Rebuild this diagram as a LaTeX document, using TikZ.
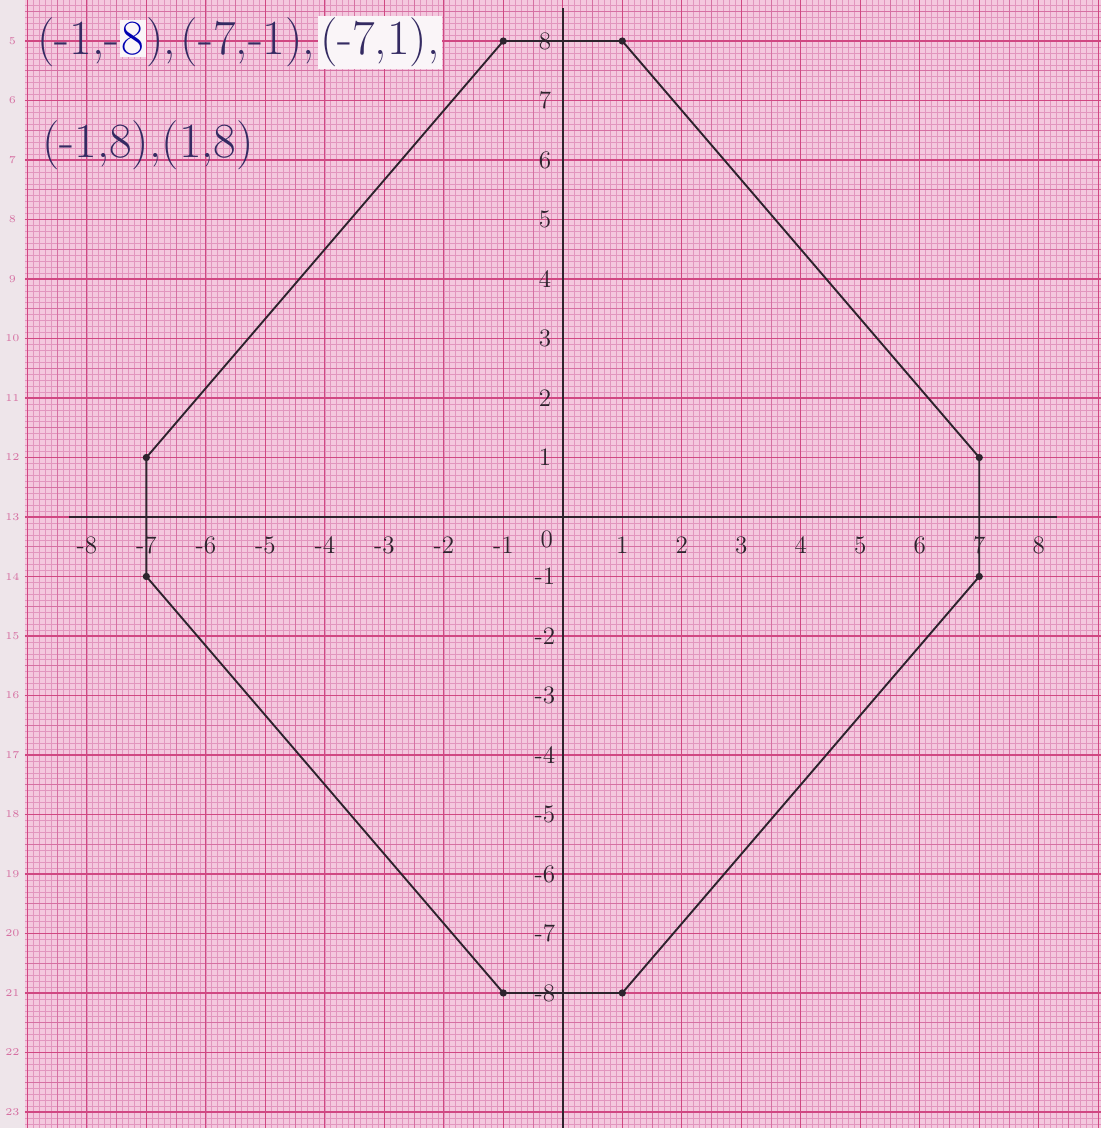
\documentclass[tikz,border=0pt]{standalone}
\usepackage{tikz}
\usetikzlibrary{positioning}
\definecolor{paper}{RGB}{244,200,222}
\definecolor{minorline}{RGB}{226,150,190}
\definecolor{halfline}{RGB}{214,112,162}
\definecolor{majorline}{RGB}{208,72,130}
\definecolor{margin}{RGB}{238,229,234}
\definecolor{ink}{RGB}{52,42,98}
\definecolor{pencil}{RGB}{45,35,45}
\definecolor{patch}{RGB}{250,245,248}
\tikzset{
    vertex/.style={circle, fill=pencil, inner sep=0pt, minimum size=3.5pt},
    tick/.style={font=\large, text=pencil, inner sep=1pt},
    pair/.style={font=\fontsize{23.5}{28}\selectfont, text=ink, inner sep=1pt},
    margnum/.style={font=\tiny, text=halfline}
}

\begin{document}
\begin{tikzpicture}
\useasboundingbox (-9.46,-10.27) rectangle (9.04,8.69);

% Graph paper
\fill[margin] (-9.46,-10.27) rectangle (-9.04,8.69);
\fill[paper] (-9.04,-10.27) rectangle (9.04,8.69);
\draw[minorline, line width=0.3pt, step=0.1] (-9.04,-10.27) grid (9.04,8.69);
\draw[halfline, line width=0.45pt, step=0.5] (-9.04,-10.27) grid (9.04,8.69);
\draw[majorline, line width=0.6pt, step=1] (-9.04,-10.27) grid (9.04,8.69);
\foreach \n [evaluate=\n as \yy using 13-\n] in {5,...,23}
    \node[margnum] (m\n) at (-9.25,\yy) {\n};

% Axes
\coordinate (xl) at (-8.3,0);
\coordinate (xr) at (8.3,0);
\coordinate (yt) at (0,8.55);
\coordinate (yb) at (0,-10.27);
\draw[pencil, line width=1.2pt] (xl) -- (xr);
\draw[pencil, line width=1.2pt] (yt) -- (yb);

% Tick labels
\foreach \x in {-8,...,-1,1,2,...,8}
    \node[tick] (tx\x) at (\x,-0.47) {\x};
\node[tick] (t0) at (-0.27,-0.37) {0};
\foreach \y in {-8,...,-1,1,2,...,8}
    \node[tick] (ty\y) at (-0.3,\y) {\y};

% Octagon
\node[vertex] (p1) at (-1,-8) {};
\node[vertex] (p2) at (-7,-1) {};
\node[vertex] (p3) at (-7,1) {};
\node[vertex] (p4) at (-1,8) {};
\node[vertex] (p5) at (1,8) {};
\node[vertex] (p6) at (7,1) {};
\node[vertex] (p7) at (7,-1) {};
\node[vertex] (p8) at (1,-8) {};
\draw[pencil, line width=0.9pt] (p1.center) -- (p2.center) -- (p3.center) -- (p4.center)
    -- (p5.center) -- (p6.center) -- (p7.center) -- (p8.center) -- (p1.center);

% Written points
\node[pair, anchor=west] (c1) at (-8.87,7.98)
    {(-1,-{\setlength\fboxsep{1pt}\colorbox{patch}{\textcolor{blue!70!black}{8}}}),};
\node[pair, base right=0pt of c1] (c2) {(-7,-1),};
\node[pair, base right=0pt of c2, fill=patch] (c3) {(-7,1),};
\node[pair, anchor=west] (c4) at (-8.79,6.25) {(-1,8),(1,8)};

\end{tikzpicture}
\end{document}
